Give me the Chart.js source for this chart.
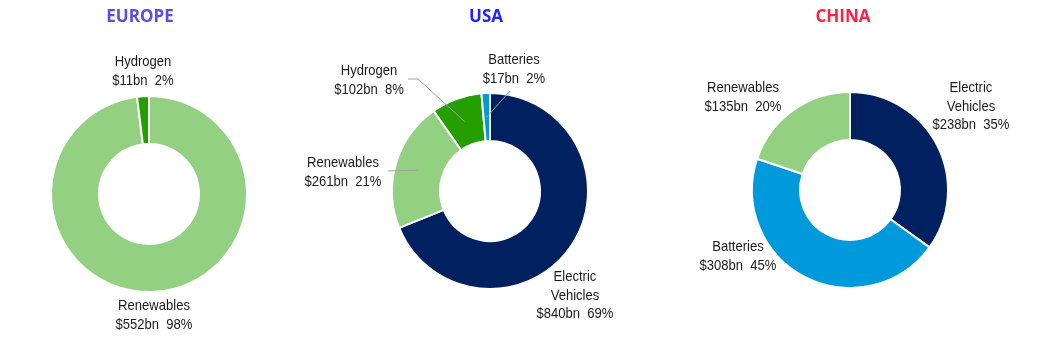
<!DOCTYPE html>
<html>
<head>
<meta charset="utf-8">
<title>Clean energy investment by region</title>
<script src="https://cdn.jsdelivr.net/npm/chart.js@4.4.1/dist/chart.umd.min.js"></script>
<style>
  body { margin: 0; background: #fff; }
  #wrap { position: relative; width: 1039px; height: 341px; overflow: hidden; }
  .box { position: absolute; top: 0; height: 341px; }
</style>
</head>
<body>
<div id="wrap">
  <div class="box" style="left:0;width:298px"><canvas id="europe"></canvas></div>
  <div class="box" style="left:300px;width:380px"><canvas id="usa"></canvas></div>
  <div class="box" style="left:680px;width:340px"><canvas id="china"></canvas></div>
</div>
<script>
// investment by sector, $bn, with the quoted share of each region's total
const europeLabels = ['Renewables', 'Hydrogen'];
const europeValues = [552, 11];
const europeShares = [98, 2];

const usaLabels = ['Electric Vehicles', 'Renewables', 'Hydrogen', 'Batteries'];
const usaValues = [840, 261, 102, 17];
const usaShares = [69, 21, 8, 2];

const chinaLabels = ['Electric Vehicles', 'Batteries', 'Renewables'];
const chinaValues = [238, 308, 135];
const chinaShares = [35, 45, 20];

const sectorColors = {
  'Electric Vehicles': '#002060',
  'Batteries': '#009ADC',
  'Renewables': '#93D082',
  'Hydrogen': '#259E00'
};

// no narrow font available, so squeeze Liberation Sans sideways
const labelFont = '15px "Liberation Sans", Arial, sans-serif';
const labelSqueeze = 0.87;

// draws the region title, the slice captions and the grey leader lines
const sliceLabels = {
  id: 'sliceLabels',
  afterDatasetsDraw(chart, args, opts) {
    const ctx = chart.ctx;
    const meta = chart.getDatasetMeta(0);
    const ds = chart.data.datasets[0];
    const cx = meta.data[0].x;
    const cy = meta.data[0].y;

    ctx.save();
    ctx.font = 'bold 17px "Open Sans", sans-serif';
    ctx.fillStyle = opts.titleColor;
    ctx.textAlign = 'center';
    ctx.textBaseline = 'middle';
    ctx.fillText(opts.title, opts.titleX, 17);

    chart.data.labels.forEach((name, i) => {
      const place = opts.places[i];
      if (place.leader) {
        const end = meta.data[i].getCenterPoint();
        ctx.strokeStyle = '#a0a0a0';
        ctx.lineWidth = 1;
        ctx.beginPath();
        place.leader.forEach((p, k) => {
          if (k === 0) ctx.moveTo(cx + p[0], cy + p[1]);
          else ctx.lineTo(cx + p[0], cy + p[1]);
        });
        ctx.lineTo(end.x, end.y);
        ctx.stroke();
      }

      const lines = name.split(' ');
      lines.push('$' + ds.data[i] + 'bn  ' + opts.shares[i] + '%');
      ctx.font = labelFont;
      ctx.fillStyle = '#1a1a1a';
      lines.forEach((t, k) => {
        ctx.save();
        ctx.translate(cx + place.dx, cy + place.dy + k * 18.5);
        ctx.scale(labelSqueeze, 1);
        ctx.fillText(t, 0, 0);
        ctx.restore();
      });
    });
    ctx.restore();
  }
};

function makeDonut(id, labels, values, shares, title, titleColor, titleX, padTop, places) {
  return new Chart(document.getElementById(id), {
    type: 'doughnut',
    data: {
      labels: labels,
      datasets: [{
        data: values,
        backgroundColor: labels.map(l => sectorColors[l]),
        borderColor: '#ffffff',
        borderWidth: 2
      }]
    },
    options: {
      responsive: true,
      maintainAspectRatio: false,
      animation: false,
      events: [],
      radius: 98,
      cutout: '51%',
      layout: { padding: { top: padTop } },
      plugins: {
        legend: { display: false },
        tooltip: { enabled: false },
        sliceLabels: { title, titleColor, titleX, shares, places }
      }
    },
    plugins: [sliceLabels]
  });
}

makeDonut('europe', europeLabels, europeValues, europeShares, 'EUROPE', '#5a4fdc', 140, 47, [
  { dx: 5, dy: 112 },
  { dx: -6, dy: -132 }
]);

makeDonut('usa', usaLabels, usaValues, usaShares, 'USA', '#2222ff', 186, 41, [
  { dx: 85, dy: 86 },
  { dx: -147, dy: -28, leader: [[-102, -20]] },
  { dx: -121, dy: -120, leader: [[-82, -112], [-72, -112]] },
  { dx: 24, dy: -131, leader: [[20, -100]] }
]);

makeDonut('china', chinaLabels, chinaValues, chinaShares, 'CHINA', '#ff2244', 163, 39, [
  { dx: 121, dy: -102 },
  { dx: -112, dy: 57 },
  { dx: -107, dy: -102 }
]);
</script>
</body>
</html>
